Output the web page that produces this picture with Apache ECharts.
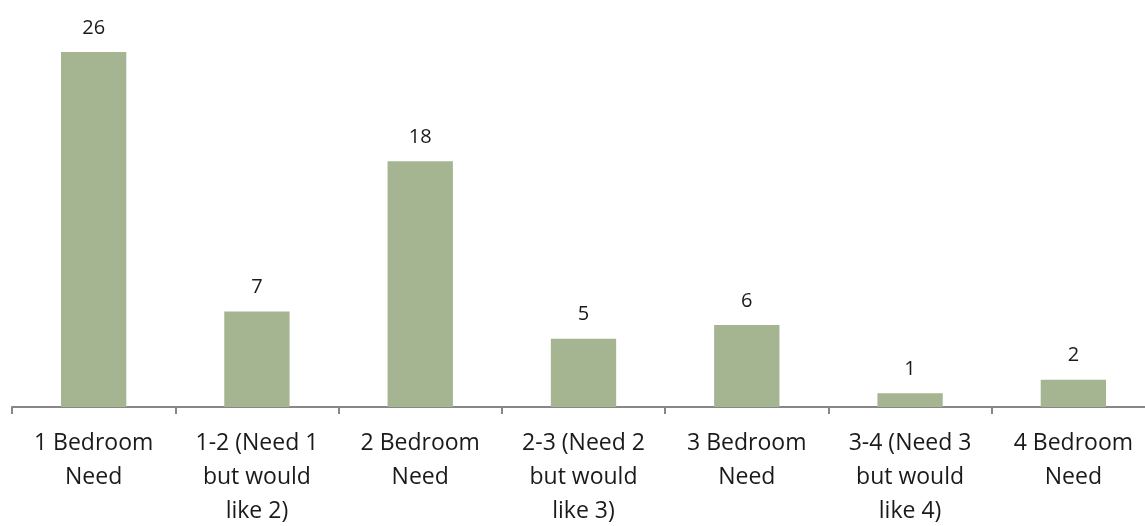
<!DOCTYPE html>
<html><head><meta charset="utf-8">
<script src="https://cdn.jsdelivr.net/npm/echarts@6/dist/echarts.min.js"></script>
<style>html,body{margin:0;padding:0;background:#fff}#c{width:1145px;height:526px}</style>
</head><body><div id="c"></div>
<script>
const categories = ["1 Bedroom\nNeed","1-2 (Need 1\nbut would\nlike 2)","2 Bedroom\nNeed","2-3 (Need 2\nbut would\nlike 3)","3 Bedroom\nNeed","3-4 (Need 3\nbut would\nlike 4)","4 Bedroom\nNeed"];
const values = [26,7,18,5,6,1,2];
const chart = echarts.init(document.getElementById('c'));
chart.setOption({
  animation:false,
  grid:{left:12,width:1143,top:52,bottom:119,containLabel:false,outerBoundsMode:'none'},
  xAxis:{type:'category',data:categories,
    axisLine:{lineStyle:{color:'#878787',width:2}},
    axisTick:{show:true,length:7,lineStyle:{color:'#878787',width:2}},
    axisLabel:{color:'#1a1a1a',fontSize:23,fontFamily:'Open Sans',lineHeight:34,margin:19,interval:0}},
  yAxis:{type:'value',min:0,max:26,show:false,splitLine:{show:false}},
  series:[{type:'bar',data:values,barWidth:'40%',itemStyle:{color:'#A5B592'},
    label:{show:true,position:'top',distance:14,color:'#1a1a1a',fontSize:20,fontFamily:'Open Sans'}}]
});
</script></body></html>
